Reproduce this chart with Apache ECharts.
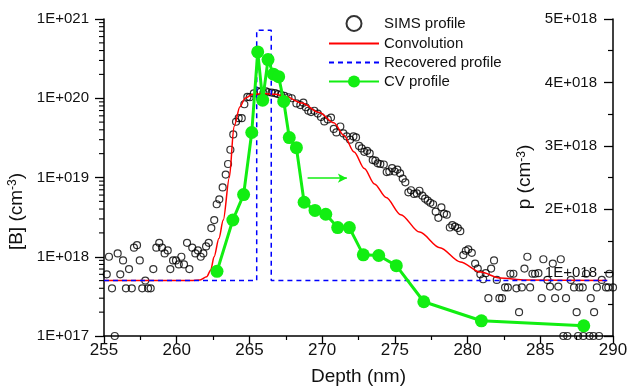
<!DOCTYPE html>
<html><head><meta charset="utf-8">
<script src="https://cdn.jsdelivr.net/npm/echarts@6/dist/echarts.min.js"></script>
<style>html,body{margin:0;padding:0;background:#fff}#c{width:628px;height:387px}</style>
</head><body><div id="c"></div>
<script>
// ---- data ----
const depthMin = 255, depthMax = 290, depthStep = 5;
const concMin = 1e17, concMax = 1e21;
const pMin = 0, pMax = 5e18, pStep = 1e18;

// SIMS profile [depth nm, B concentration cm^-3]
const simsProfile = [
[255.19,6e17],[255.34,1.0e18],[255.55,4e17],[255.74,1e17],[255.94,1.1e18],[256.12,6e17],[256.31,9e17],[256.51,4e17],[256.72,7e17],[256.91,4e17],
[257.06,1.3e18],[257.27,1.4e18],[257.46,9e17],[257.63,4e17],[257.84,5e17],[258.03,4e17],[258.21,4e17],[258.39,7e17],[258.60,1.3e18],[258.80,1.5e18],
[258.99,1.3e18],[259.17,1.1e18],[259.38,1.2e18],[259.56,7e17],[259.75,9e17],[259.95,9e17],[260.14,8e17],[260.32,1.0e18],[260.50,8e17],[260.71,1.5e18],
[260.87,7e17],[261.07,1.3e18],[261.28,1.1e18],[261.46,1.2e18],[261.65,1.0e18],[261.83,1.1e18],[262.02,1.35e18],[262.20,1.5e18],[262.38,2.3e18],[262.58,2.9e18],
[262.75,4.6e18],[262.93,5.3e18],[263.16,7.5e18],[263.37,1.09e19],[263.53,1.48e19],[263.69,2.24e19],[263.89,3.5e19],[264.08,5.05e19],[264.26,5.6e19],[264.47,5.6e19],
[264.65,8.4e19],[264.86,1.04e20],[265.02,1.03e20],[265.30,1.15e20],[265.57,1.23e20],[265.76,1.2e20],[265.96,1.16e20],[266.14,1.22e20],[266.30,1.19e20],[266.53,1.18e20],
[266.76,1.16e20],[266.95,1.13e20],[267.17,1.10e20],[267.40,1.07e20],[267.68,1.03e20],[267.91,1.0e20],[268.23,8.6e19],[268.50,8.2e19],[268.71,8.8e19],[268.87,7.7e19],
[269.05,6.95e19],[269.24,6.7e19],[269.46,6.95e19],[269.70,6.4e19],[269.92,5.8e19],[270.15,5.1e19],[270.39,5.4e19],[270.61,5.7e19],[270.80,4.1e19],[270.98,3.7e19],
[271.25,4.4e19],[271.46,3.6e19],[271.69,3.3e19],[271.92,3.0e19],[272.15,3.3e19],[272.33,3.2e19],[272.54,2.5e19],[272.72,2.33e19],[272.90,2.11e19],[273.09,2.17e19],
[273.27,2.01e19],[273.48,1.66e19],[273.66,1.63e19],[273.82,1.51e19],[274.00,1.48e19],[274.24,1.46e19],[274.44,1.17e19],[274.62,1.19e19],[274.81,1.31e19],[274.99,1.19e19],
[275.17,1.26e19],[275.36,1.13e19],[275.54,9.7e18],[275.72,8.7e18],[275.93,6.5e18],[276.11,6.9e18],[276.32,6.2e18],[276.51,6.3e18],[276.69,6.8e18],[276.89,5.9e18],
[277.08,5.4e18],[277.26,5.1e18],[277.44,4.8e18],[277.63,4.6e18],[277.81,3.7e18],[277.99,3.1e18],[278.20,4.2e18],[278.38,3.5e18],[278.57,3.4e18],[278.78,2.34e18],
[278.95,2.5e18],[279.14,2.4e18],[279.33,2.3e18],[279.50,2.1e18],[279.71,1.05e18],[279.88,1.19e18],[280.05,1.24e18],[280.29,1.12e18],[280.52,8.2e17],[280.70,7.1e17],
[280.88,6.0e17],[281.07,5.2e17],[281.25,6.2e17],[281.43,3.0e17],[281.62,7.1e17],[281.82,9.0e17],[282.01,5.1e17],[282.19,3.0e17],[282.37,3.0e17],[282.58,4.1e17],
[282.77,4.1e17],[282.94,6.1e17],[283.15,6.1e17],[283.36,4.0e17],[283.54,2.0e17],[283.73,4.1e17],[283.91,7.1e17],[284.11,1.0e18],[284.30,4.1e17],[284.46,6.1e17],
[284.64,6.1e17],[284.87,6.2e17],[285.10,3.0e17],[285.21,9.3e17],[285.49,5.1e17],[285.67,4.2e17],[285.86,8.2e17],[286.02,3.0e17],[286.24,4.2e17],[286.41,9.3e17],
[286.59,1e17],[286.77,3.0e17],[286.86,1e17],[287.10,5.1e17],[287.32,4.1e17],[287.50,2.0e17],[287.60,1e17],[287.69,4.1e17],[287.92,4.1e17],[287.96,1e17],
[288.15,6.1e17],[288.38,1e17],[288.47,3.0e17],[288.65,1e17],[288.70,2.0e17],[288.89,4.1e17],[289.04,1e17],[289.23,5.1e17],[289.52,4.1e17],[289.68,4.1e17],
[289.75,6.1e17],[290.0,4.1e17]
];

// Convolution curve
const convDepth = [255,261.0,261.6,262.06,262.34,262.57,262.9,263.2,263.62,263.94,264.35,264.7,265.2,266.0,266.8,267.5,268.6,269.8,270.8,271.5,272.2,272.9,273.6,274.4,275.4,276.7,278.1,279.5,280.9,282.2,284.0,289.6];
const convConc  = [5e17,5e17,5.1e17,5.6e17,6.8e17,1e18,1.7e18,2.9e18,1e19,4.4e19,7.8e19,1.0e20,1.12e20,1.15e20,1.12e20,1.05e20,8.7e19,6.6e19,4.9e19,3.4e19,2.1e19,1.3e19,8.3e18,5.6e18,3.4e18,2.05e18,1.3e18,8.6e17,6.4e17,5.4e17,5.1e17,5e17];

// Recovered profile
const recDepth = [255,265.5,265.5,266.5,266.5,289.6];
const recConc  = [5e17,5e17,7.2e20,7.2e20,5e17,5e17];

// CV profile (right axis, p cm^-3)
const cvDepth = [262.77,263.86,264.6,265.16,265.57,265.91,266.28,266.65,267.01,267.36,267.74,268.23,268.76,269.51,270.25,271.07,271.87,272.83,273.89,275.1,276.99,280.95,287.99];
const cvConc  = [1.02e18,1.83e18,2.23e18,3.21e18,4.48e18,3.72e18,4.36e18,4.13e18,4.09e18,3.70e18,3.13e18,2.97e18,2.11e18,1.98e18,1.92e18,1.71e18,1.71e18,1.28e18,1.27e18,1.11e18,0.54e18,0.24e18,0.16e18];
const cvArrow = [[269.0,2.49e18],[271.7,2.49e18]];

// left log-axis minor tick values
const logDecades = [1e17,1e18,1e19,1e20];
const logMinorMult = [2,3,4,5,6,7,8,9];

const seriesNames = ['SIMS profile','Convolution','Recovered profile','CV profile'];
// ---- chart ----
const FONT = '"Liberation Sans", Arial, sans-serif';
const TXT = '#111';
const GREEN = '#12ee12';
const zip = (a,b)=>a.map((v,i)=>[v,b[i]]);
const minorVals = [];
logDecades.forEach(d=>logMinorMult.forEach(m=>minorVals.push([depthMin, d*m])));
const hideSym = {color:'rgba(0,0,0,0)',borderWidth:0,opacity:0};

const chart = echarts.init(document.getElementById('c'), null, {renderer:'canvas'});
chart.setOption({
  animation:false,
  backgroundColor:'#fff',
  textStyle:{fontFamily:FONT},
  grid:{left:104,right:15,top:19,bottom:51,containLabel:false,outerBoundsMode:'none'},
  legend:{
    orient:'vertical', left:328, top:15, padding:0, itemWidth:50, itemHeight:15, itemGap:4,
    textStyle:{fontSize:15,color:TXT,fontFamily:FONT},
    data:[
      {name:seriesNames[0]},
      {name:seriesNames[1], itemStyle:hideSym},
      {name:seriesNames[2], itemStyle:hideSym},
      {name:seriesNames[3]}
    ]
  },
  graphic:[{
    type:'text', x:525, y:177, rotation:Math.PI/2, silent:true,
    style:{text:'p (cm{sup|-3})', fill:TXT, font:'19px "Liberation Sans", Arial, sans-serif',
      align:'center', verticalAlign:'middle',
      rich:{sup:{fontSize:12,verticalAlign:'top',fill:TXT,fontFamily:FONT}}}
  }],
  xAxis:{
    type:'value', min:depthMin, max:depthMax, interval:depthStep,
    name:'Depth (nm)', nameLocation:'middle', nameGap:31,
    nameTextStyle:{fontSize:19,color:TXT,fontFamily:FONT},
    axisLine:{show:true,onZero:false,lineStyle:{color:'#000',width:1.5}},
    axisTick:{show:true,length:8,lineStyle:{color:'#000',width:1.3}},
    minorTick:{show:true,splitNumber:2,length:4,lineStyle:{color:'#000',width:1.2}},
    splitLine:{show:false},
    axisLabel:{fontSize:17,color:TXT,margin:6,fontFamily:FONT}
  },
  yAxis:[{
    type:'log', logBase:10, min:concMin, max:concMax, position:'left',
    name:'[B] (cm{sup|-3})', nameLocation:'middle', nameGap:72,
    nameTextStyle:{fontSize:19,color:TXT,fontFamily:FONT,padding:[0,68,0,0],
      rich:{sup:{fontSize:12,verticalAlign:'top',color:TXT,fontFamily:FONT}}},
    axisLine:{show:true,lineStyle:{color:'#000',width:1.5}},
    axisTick:{show:true,length:9,lineStyle:{color:'#000',width:1.3}},
    splitLine:{show:false},
    axisLabel:{fontSize:15,color:TXT,margin:15,fontFamily:FONT,
      formatter:v=>'1E+0'+Math.round(Math.log10(v))}
  },{
    type:'value', min:pMin, max:pMax, interval:pStep, position:'right',
    axisLine:{show:true,lineStyle:{color:'#000',width:1.5}},
    axisTick:{show:true,inside:true,length:9,lineStyle:{color:'#000',width:1.3}},
    minorTick:{show:true,splitNumber:2,length:5,lineStyle:{color:'#000',width:1.2}},
    splitLine:{show:false},
    axisLabel:{inside:true,fontSize:15,color:TXT,margin:16,fontFamily:FONT,
      formatter:v=> v===0 ? '' : (v/1e18)+'E+018'}
  }],
  series:[{
    name:seriesNames[0], type:'scatter', xAxisIndex:0, yAxisIndex:0, clip:false,
    symbol:'circle', symbolSize:7,
    itemStyle:{color:'rgba(0,0,0,0)',borderColor:'#000',borderWidth:1.2},
    data:simsProfile, z:2
  },{
    name:seriesNames[1], type:'line', xAxisIndex:0, yAxisIndex:0, symbol:'none',
    smooth:0.3, smoothMonotone:'x',
    lineStyle:{color:'#ff0000',width:1.5}, itemStyle:{color:'#ff0000'},
    data:zip(convDepth,convConc), z:3
  },{
    name:seriesNames[2], type:'line', xAxisIndex:0, yAxisIndex:0, symbol:'none',
    lineStyle:{color:'#0000ff',width:1.5,type:[5,4]}, itemStyle:{color:'#0000ff'},
    data:zip(recDepth,recConc), z:4
  },{
    name:seriesNames[3], type:'line', xAxisIndex:0, yAxisIndex:1,
    symbol:'circle', symbolSize:13, showSymbol:true,
    lineStyle:{color:GREEN,width:3}, itemStyle:{color:GREEN},
    data:zip(cvDepth,cvConc), z:5,
    markLine:{silent:true, symbol:['none','arrow'], symbolSize:[7,9],
      lineStyle:{color:GREEN,width:1.5,type:'solid'}, label:{show:false},
      data:[[{coord:cvArrow[0]},{coord:cvArrow[1]}]]}
  },{
    name:'minorTicks', type:'custom', xAxisIndex:0, yAxisIndex:0, clip:false, silent:true,
    encode:{x:0,y:1}, data:minorVals, z:1,
    renderItem:(params,api)=>{
      const p = api.coord([api.value(0), api.value(1)]);
      return {type:'line', shape:{x1:p[0]-5,y1:p[1],x2:p[0],y2:p[1]},
        style:{stroke:'#000',lineWidth:1.1}};
    }
  }]
});
</script></body></html>
